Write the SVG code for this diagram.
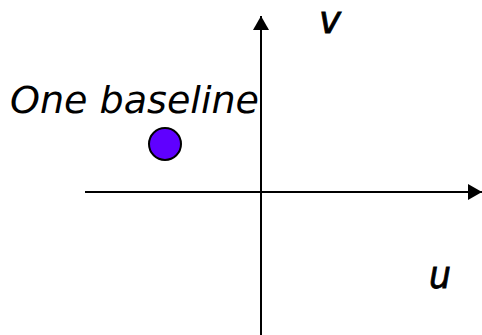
<svg xmlns="http://www.w3.org/2000/svg" width="482" height="335" viewBox="0 0 482 335">
<style>
.axis{stroke:#000;stroke-width:2;fill:none}
.lbl{font-family:"Comic Sans MS","DejaVu Sans",sans-serif;font-style:italic;fill:#000}
.ax{stroke:#000;stroke-width:0.8}
</style>
<defs>
<marker id="arr" markerWidth="14" markerHeight="16" refX="14" refY="8" orient="auto" markerUnits="userSpaceOnUse">
<path d="M0,0 L14,8 L0,16 Z" fill="#000"/>
</marker>
</defs>
<g id="connectors">
<line class="axis" x1="261" y1="335" x2="261" y2="16" marker-end="url(#arr)"/>
<line class="axis" x1="85" y1="192" x2="482" y2="192" marker-end="url(#arr)"/>
</g>
<g id="baseline">
<circle cx="165" cy="144" r="16" fill="#5f00ff" stroke="#000" stroke-width="2"/>
<text class="lbl" x="10" y="113" font-size="38" textLength="249" lengthAdjust="spacingAndGlyphs">One baseline</text>
</g>
<g id="v-label"><text class="lbl ax" x="319" y="33" font-size="37" textLength="22" lengthAdjust="spacingAndGlyphs">v</text></g>
<g id="u-label"><text class="lbl ax" x="429" y="288" font-size="37" textLength="22" lengthAdjust="spacingAndGlyphs">u</text></g>
</svg>
